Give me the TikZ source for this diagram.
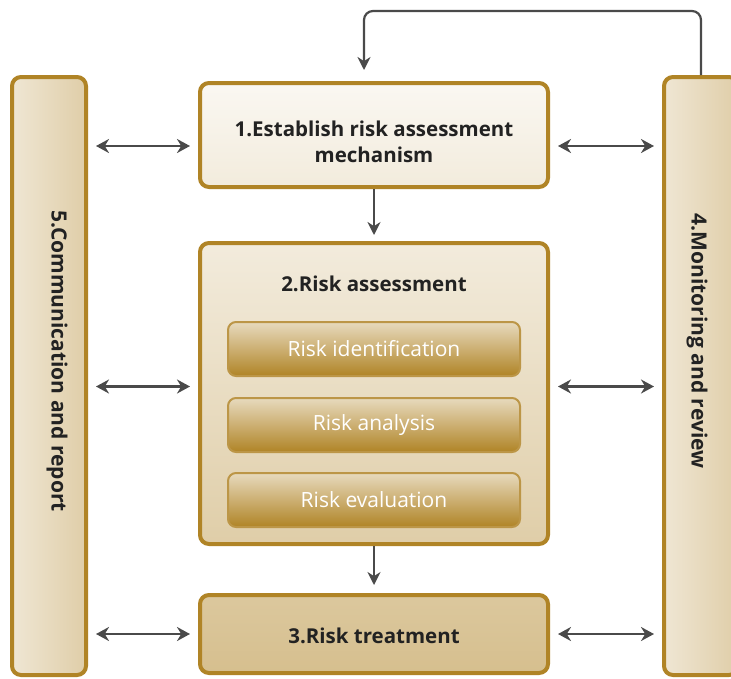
\documentclass[tikz,border=0pt]{standalone}
\usepackage{fontspec}
\setmainfont{Open Sans}
\usepackage{xcolor}
\usepackage{tikz}
\usetikzlibrary{arrows.meta}

\definecolor{gold}{HTML}{B08426}
\definecolor{arrowgray}{HTML}{4A4A4A}
\definecolor{textdark}{HTML}{222222}

\tikzset{
    bigbox/.style={draw=gold, line width=4pt, rounded corners=9pt,
        minimum width=348pt, align=center, text=textdark,
        font=\fontsize{20.5}{26}\selectfont\bfseries},
    boxtext/.style={align=center, text=textdark,
        font=\fontsize{20.5}{26}\selectfont\bfseries},
    subbox/.style={draw=gold!85!white, line width=2pt, rounded corners=8pt,
        minimum width=292pt, minimum height=54pt,
        top color=gold!30!white, bottom color=gold, text=white,
        font=\fontsize{21}{24}\selectfont},
    column/.style={draw=gold, line width=4pt, rounded corners=9pt,
        minimum width=74pt, minimum height=598pt,
        left color=gold!20!white, right color=gold!40!white},
    coltext/.style={rotate=-90, text=textdark,
        font=\fontsize{21}{24}\selectfont\bfseries},
    arr/.style={draw=arrowgray, line width=2.2pt,
        -{Stealth[length=13pt, width=13pt]}},
    dbl/.style={draw=arrowgray, line width=2.5pt,
        {Stealth[length=13pt, width=14pt]}-{Stealth[length=13pt, width=14pt]},
        shorten <=8pt, shorten >=8pt}
}

\begin{document}
\begin{tikzpicture}[x=1pt, y=-1pt]
    \useasboundingbox[fill=white] (0,0) rectangle (731,678);

    % side columns
    \node[column] at (49, 376) (lcol) {};
    \node[column] at (701, 376) (rcol) {};
    \node[coltext] at (57, 361) (ltext) {5.Communication and report};
    \node[coltext] at (697, 341) (rtext) {4.Monitoring and review};

    % main steps
    \node[bigbox, minimum height=104pt, top color=gold!6!white, bottom color=gold!16!white]
        at (374, 135) (est) {};
    \node[boxtext] at (374, 142) (esttext) {1.Establish risk assessment\\mechanism};
    \node[bigbox, minimum height=301pt, top color=gold!16!white, bottom color=gold!40!white]
        at (374, 393.5) (assess) {};
    \node[boxtext] at (374, 284) (assesstitle) {2.Risk assessment};
    \node[subbox] at (374, 349) (ident) {Risk identification};
    \node[subbox] at (374, 425) (analysis) {Risk analysis};
    \node[subbox] at (374, 500) (evalu) {Risk evaluation};
    \node[bigbox, minimum height=78pt, top color=gold!45!white, bottom color=gold!52!white]
        at (374, 634) (treat) {};
    \node[boxtext] at (374, 636) (treattext) {3.Risk treatment};

    % flow
    \draw[arr, shorten >=6pt] (est.south) -- (assess.north);
    \draw[arr, shorten >=8pt] (assess.south) -- (treat.north);
    \coordinate (fbtop) at (364, 11);
    \draw[arr, rounded corners=9pt, shorten >=11pt] (rcol.north) |- (fbtop) -- (fbtop |- est.north);

    % communication links
    \draw[dbl] ([yshift=-11pt]est.west -| lcol.east) -- ([yshift=-11pt]est.west);
    \draw[dbl] ([yshift=7pt]assess.west -| lcol.east) -- ([yshift=7pt]assess.west);
    \draw[dbl] (treat.west -| lcol.east) -- (treat.west);
    \draw[dbl] ([yshift=-11pt]est.east) -- ([yshift=-11pt]est.east -| rcol.west);
    \draw[dbl] ([yshift=7pt]assess.east) -- ([yshift=7pt]assess.east -| rcol.west);
    \draw[dbl] (treat.east) -- (treat.east -| rcol.west);
\end{tikzpicture}
\end{document}
